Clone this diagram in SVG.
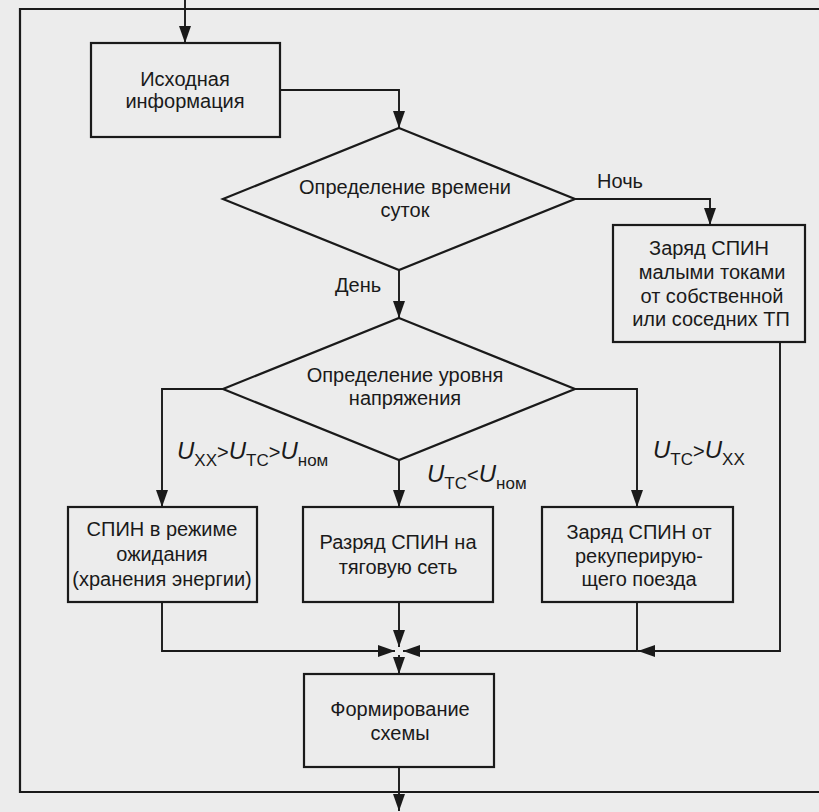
<svg xmlns="http://www.w3.org/2000/svg" width="819" height="812" viewBox="0 0 819 812">
<defs>
<marker id="ah" markerUnits="userSpaceOnUse" markerWidth="20" markerHeight="14" refX="17" refY="6" orient="auto">
<path d="M0,0 L17,6 L0,12 Z" fill="#1a1a1a"/>
</marker>
<style>
.bg{fill:#ececec}
.frame{fill:none;stroke:#1a1a1a;stroke-width:2.2}
.box{fill:none;stroke:#1a1a1a;stroke-width:2.2}
.con{fill:none;stroke:#1a1a1a;stroke-width:1.9}
.arr{marker-end:url(#ah)}
text{font-family:"Liberation Sans",Arial,sans-serif;font-size:20px;fill:#1a1a1a}
.c{text-anchor:middle}
.u{font-style:italic;font-size:24px}
.s{font-style:normal;font-size:17px}
.op{font-style:normal;font-size:20px}
</style>
</defs>
<rect class="bg" x="0" y="0" width="819" height="812"/>
<g id="frame">
<path class="frame" d="M819,9 H20 V792 H819"/>
</g>
<g id="connectors">
<path class="con arr" d="M185,0 V43"/>
<path class="con arr" d="M280,90 H399 V128"/>
<path class="con arr" d="M573,199 H710 V225"/>
<path class="con arr" d="M399,270 V318"/>
<path class="con arr" d="M223,389 H162 V507"/>
<path class="con arr" d="M399,460 V507"/>
<path class="con arr" d="M575,389 H637 V507"/>
<path class="con arr" d="M162,602 V651 H395"/>
<path class="con arr" d="M399,602 V647"/>
<path class="con arr" d="M637,602 V651 H403"/>
<path class="con arr" d="M780,342 V651 H638"/>
<path class="con arr" d="M399,655 V674"/>
<path class="con arr" d="M399,767 V811"/>
</g>
<g id="n-source">
<rect class="box" x="91" y="43" width="189" height="94"/>
<text class="c" x="185" y="86">Исходная</text>
<text class="c" x="185" y="108">информация</text>
</g>
<g id="d-time">
<polygon class="box" points="399,128 575,199 399,270 223,199"/>
<text class="c" x="405" y="194">Определение времени</text>
<text class="c" x="405" y="217">суток</text>
</g>
<g id="lbl-night"><text x="597" y="188">Ночь</text></g>
<g id="lbl-day"><text x="335" y="292">День</text></g>
<g id="n-night">
<rect class="box" x="613" y="225" width="192" height="117"/>
<text class="c" x="709" y="255">Заряд СПИН</text>
<text class="c" x="712" y="279">малыми токами</text>
<text class="c" x="712" y="303">от собственной</text>
<text class="c" x="711" y="326">или соседних ТП</text>
</g>
<g id="d-voltage">
<polygon class="box" points="399,318 575,389 399,460 223,389"/>
<text class="c" x="405" y="382">Определение уровня</text>
<text class="c" x="405" y="405">напряжения</text>
</g>
<g id="lbl-left"><text x="177" y="459"><tspan class="u">U</tspan><tspan class="s" dy="7">XX</tspan><tspan class="op" dy="-7">&gt;</tspan><tspan class="u">U</tspan><tspan class="s" dy="7">TC</tspan><tspan class="op" dy="-7">&gt;</tspan><tspan class="u">U</tspan><tspan class="s" dy="7">ном</tspan></text></g>
<g id="lbl-mid"><text x="427" y="482"><tspan class="u">U</tspan><tspan class="s" dy="7">TC</tspan><tspan class="op" dy="-7">&lt;</tspan><tspan class="u">U</tspan><tspan class="s" dy="7">ном</tspan></text></g>
<g id="lbl-right"><text x="653" y="458"><tspan class="u">U</tspan><tspan class="s" dy="7">TC</tspan><tspan class="op" dy="-7">&gt;</tspan><tspan class="u">U</tspan><tspan class="s" dy="7">XX</tspan></text></g>
<g id="n-standby">
<rect class="box" x="68" y="507" width="189" height="95"/>
<text class="c" x="162" y="536">СПИН в режиме</text>
<text class="c" x="162" y="561">ожидания</text>
<text class="c" x="162" y="586">(хранения энергии)</text>
</g>
<g id="n-discharge">
<rect class="box" x="303" y="507" width="190" height="95"/>
<text class="c" x="398" y="549">Разряд СПИН на</text>
<text class="c" x="398" y="574">тяговую сеть</text>
</g>
<g id="n-regen">
<rect class="box" x="542" y="507" width="191" height="95"/>
<text class="c" x="639" y="539">Заряд СПИН от</text>
<text class="c" x="639" y="563">рекуперирую-</text>
<text class="c" x="639" y="586">щего поезда</text>
</g>
<g id="n-scheme">
<rect class="box" x="304" y="674" width="190" height="93"/>
<text class="c" x="400" y="716">Формирование</text>
<text class="c" x="400" y="740">схемы</text>
</g>
</svg>
